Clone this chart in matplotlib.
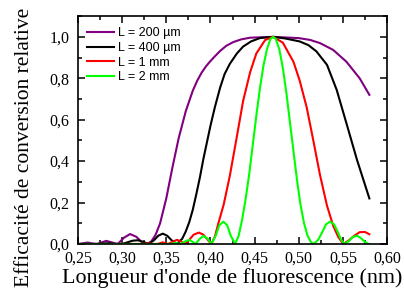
import numpy as np
import matplotlib.pyplot as plt
from matplotlib.ticker import MultipleLocator, FuncFormatter

# values (wavelength, relative efficiency)
lam_200 = [0.250, 0.255, 0.261, 0.267, 0.272, 0.277, 0.282, 0.288, 0.295, 0.302,
           0.309, 0.316, 0.322, 0.328, 0.333, 0.338, 0.343, 0.350, 0.357, 0.364,
           0.372, 0.380, 0.385, 0.390, 0.395, 0.400, 0.405, 0.411, 0.418, 0.426,
           0.435, 0.445, 0.471, 0.500, 0.513, 0.524, 0.539, 0.554, 0.569, 0.580]
eff_200 = [0.000, 0.003, 0.007, 0.002, 0.000, 0.008, 0.015, 0.008, 0.000, 0.030,
           0.048, 0.035, 0.010, 0.000, 0.012, 0.045, 0.100, 0.220, 0.370, 0.510,
           0.640, 0.740, 0.788, 0.827, 0.858, 0.883, 0.906, 0.932, 0.957, 0.975,
           0.988, 0.996, 1.000, 0.994, 0.985, 0.970, 0.937, 0.880, 0.800, 0.720]

lam_400 = [0.250, 0.270, 0.285, 0.292, 0.300, 0.306, 0.312, 0.318, 0.324, 0.330,
           0.336, 0.341, 0.346, 0.351, 0.356, 0.362, 0.368, 0.372, 0.376, 0.380,
           0.384, 0.388, 0.392, 0.396, 0.400, 0.405, 0.411, 0.416, 0.422, 0.430,
           0.437, 0.446, 0.456, 0.471, 0.485, 0.501, 0.511, 0.520, 0.532, 0.543,
           0.554, 0.566, 0.580]
eff_400 = [0.000, 0.000, 0.004, 0.000, 0.000, 0.008, 0.016, 0.018, 0.010, 0.000,
           0.018, 0.040, 0.050, 0.040, 0.018, 0.000, 0.025, 0.060, 0.105, 0.165,
           0.240, 0.320, 0.410, 0.490, 0.570, 0.660, 0.755, 0.820, 0.870, 0.920,
           0.953, 0.978, 0.994, 1.000, 0.992, 0.978, 0.960, 0.930, 0.865, 0.744,
           0.583, 0.406, 0.220]

lam_1mm = [0.250, 0.320, 0.330, 0.335, 0.340, 0.346, 0.352, 0.357, 0.362, 0.367,
           0.371, 0.376, 0.381, 0.387, 0.392, 0.397, 0.401, 0.405, 0.409, 0.415,
           0.422, 0.430, 0.437, 0.445, 0.452, 0.462, 0.471, 0.482, 0.494, 0.501,
           0.509, 0.5165, 0.524, 0.532, 0.539, 0.545, 0.5505, 0.556, 0.563, 0.569,
           0.575, 0.580]
eff_1mm = [0.000, 0.000, 0.003, 0.000, 0.000, 0.008, 0.000, 0.010, 0.020, 0.012,
           0.000, 0.020, 0.045, 0.055, 0.045, 0.020, 0.000, 0.035, 0.100, 0.190,
           0.330, 0.520, 0.690, 0.830, 0.920, 0.985, 1.000, 0.972, 0.880, 0.790,
           0.660, 0.500, 0.335, 0.185, 0.088, 0.032, 0.000, 0.015, 0.040, 0.057,
           0.058, 0.047]

lam_2mm = [0.250, 0.350, 0.355, 0.360, 0.366, 0.371, 0.376, 0.380, 0.383, 0.388,
           0.392, 0.397, 0.401, 0.406, 0.410, 0.4146, 0.419, 0.423, 0.428, 0.432,
           0.436, 0.440, 0.444, 0.448, 0.452, 0.456, 0.460, 0.464, 0.468, 0.471,
           0.474, 0.478, 0.482, 0.486, 0.490, 0.494, 0.498, 0.502, 0.506, 0.510,
           0.514, 0.517, 0.522, 0.527, 0.531, 0.5354, 0.540, 0.544, 0.548, 0.552,
           0.557, 0.561, 0.566, 0.570, 0.575, 0.579, 0.580]
eff_2mm = [0.000, 0.000, 0.000, 0.005, 0.000, 0.012, 0.020, 0.010, 0.000, 0.025,
           0.039, 0.025, 0.000, 0.040, 0.090, 0.108, 0.090, 0.040, 0.000, 0.040,
           0.120, 0.220, 0.340, 0.480, 0.620, 0.750, 0.860, 0.940, 0.990, 1.000,
           0.990, 0.940, 0.850, 0.730, 0.590, 0.450, 0.310, 0.190, 0.100, 0.040,
           0.008, 0.000, 0.020, 0.060, 0.095, 0.108, 0.095, 0.060, 0.020, 0.000,
           0.015, 0.033, 0.040, 0.030, 0.010, 0.000, 0.000]

labels = ['L = 200 µm', 'L = 400 µm', 'L = 1 mm', 'L = 2 mm']
colors = ['#800080', 'black', 'red', '#00ff00']

fig = plt.figure(figsize=(4.04, 2.99), dpi=100)
ax = fig.add_axes([0.193, 0.184, 0.765, 0.762])

series = [(lam_200, eff_200), (lam_400, eff_400), (lam_1mm, eff_1mm), (lam_2mm, eff_2mm)]
for (x, y), lab, c in zip(series, labels, colors):
    ax.plot(x, y, color=c, lw=1.5, label=lab, solid_joinstyle='round')

ax.set_xlim(0.25, 0.60)
ax.set_ylim(0, 1.1)
ax.xaxis.set_major_locator(MultipleLocator(0.05))
ax.xaxis.set_minor_locator(MultipleLocator(0.025))
ax.yaxis.set_major_locator(MultipleLocator(0.2))
ax.yaxis.set_minor_locator(MultipleLocator(0.1))
ax.xaxis.set_major_formatter(FuncFormatter(lambda v, p: f'{v:.2f}'.replace('.', ',')))
ax.yaxis.set_major_formatter(FuncFormatter(lambda v, p: f'{v:.1f}'.replace('.', ',')))

ax.tick_params(which='both', direction='in', top=True, right=True, width=1.1)
ax.tick_params(which='major', length=5)
ax.tick_params(which='minor', length=3)
ax.tick_params(axis='x', pad=5)
ax.tick_params(axis='y', pad=6)
for lab in ax.get_xticklabels() + ax.get_yticklabels():
    lab.set_family('Liberation Serif')
    lab.set_fontsize(11.5)
for s in ax.spines.values():
    s.set_linewidth(1.2)

ax.set_xlabel("Longueur d'onde de fluorescence (nm)", family='Liberation Serif',
              fontsize=15.8, labelpad=1)
ax.set_ylabel('Efficacité de conversion relative', family='Liberation Serif',
              fontsize=15.5)
ax.yaxis.set_label_coords(-0.142, 0.423)

leg = ax.legend(loc='upper left', frameon=False, prop={'family': 'Liberation Sans', 'size': 9},
                handlelength=2.2, handletextpad=0.3, labelspacing=0.22,
                borderaxespad=0.3, bbox_to_anchor=(0.0, 0.99))

fig.savefig('out.png', dpi=100)
